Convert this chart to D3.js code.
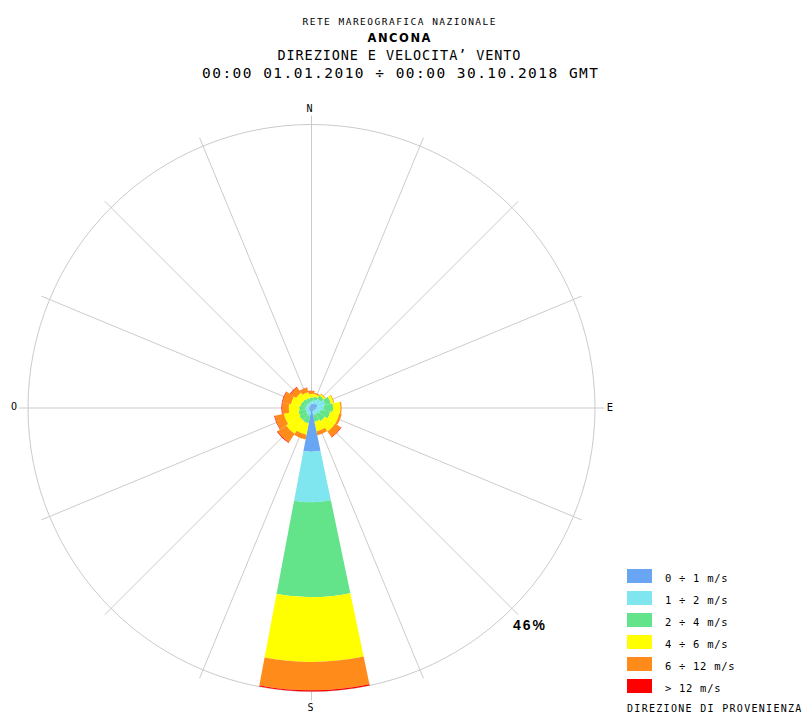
<!DOCTYPE html>
<html>
<head>
<meta charset="utf-8">
<script src="https://cdn.jsdelivr.net/npm/d3@7"></script>
<style>
  html, body { margin: 0; padding: 0; background: #fff; }
  svg { display: block; }
</style>
</head>
<body>
<svg id="chart" width="803" height="713"></svg>
<script>
// Wind rose: 16 direction sectors, stacked by speed class (percent of observations)
const directions = ["N","NNE","NE","ENE","E","ESE","SE","SSE","S","SSW","SW","WSW","W","WNW","NW","NNW"];
const speedClasses = ["0 ÷ 1 m/s","1 ÷ 2 m/s","2 ÷ 4 m/s","4 ÷ 6 m/s","6 ÷ 12 m/s","> 12 m/s"];
const classColors = ["#68a6f4","#7fe6ef","#63e38a","#ffff00","#ff8c1a","#ff0000"];

const speed0_1  = [0.6, 0.7, 0.9, 1.0, 0.8, 0.6, 0.5, 0.6,  7.1, 0.6, 0.5, 0.4, 0.4, 0.4, 0.4, 0.4];
const speed1_2  = [0.5, 0.7, 0.9, 1.3, 1.2, 0.9, 0.7, 0.6,  8.2, 0.7, 0.6, 0.6, 0.6, 0.5, 0.5, 0.5];
const speed2_4  = [0.6, 0.5, 0.6, 0.9, 1.5, 1.6, 1.4, 1.1, 15.4, 1.2, 1.3, 1.2, 1.0, 0.9, 0.8, 0.7];
const speed4_6  = [0.6, 0.4, 0.3, 0.5, 1.2, 1.5, 2.0, 1.6, 10.5, 1.9, 2.6, 2.4, 1.7, 1.6, 1.3, 1.0];
const speed6_12 = [0.45,0.2, 0.1, 0.1, 0.2, 0.4, 1.1, 0.6,  4.6, 0.8, 1.7, 1.5, 1.1, 1.4, 1.1, 0.75];
const speedOver12=[0.05,0.0, 0.0, 0.0, 0.0, 0.0, 0.1, 0.0,  0.2, 0.0, 0.1, 0.1, 0.1, 0.1, 0.1, 0.05];

const maxPercent = 46;
const titleLines = ["RETE MAREOGRAFICA NAZIONALE","ANCONA","DIREZIONE E VELOCITA’ VENTO","00:00 01.01.2010 ÷ 00:00 30.10.2018 GMT"];
const compassLabels = [{t:"N",a:0},{t:"E",a:90},{t:"S",a:180},{t:"O",a:270}];

const series = [speed0_1, speed1_2, speed2_4, speed4_6, speed6_12, speedOver12];

const svg = d3.select("#chart");
const cx = 311.5, cy = 408, R = 283.5;
const mono = "'DejaVu Sans Mono', 'Liberation Mono', monospace";

const r = d3.scaleLinear().domain([0, maxPercent]).range([0, R]);
const angle = d3.scaleLinear().domain([0, directions.length]).range([0, 2 * Math.PI]);
// sectors are drawn with a slight counter-clockwise offset from the spokes
const sectorOffset = -0.6 * Math.PI / 180;

// Title block
const title = svg.append("g").attr("text-anchor", "middle");
title.append("text").attr("x", 399).attr("y", 24.5)
  .attr("font-family", mono).attr("font-size", 9.5)
  .attr("textLength", 193).attr("lengthAdjust", "spacing")
  .text(titleLines[0]);
title.append("text").attr("x", 399).attr("y", 42)
  .attr("font-family", "'DejaVu Sans', sans-serif").attr("font-weight", "bold").attr("font-size", 11.5)
  .attr("textLength", 63).attr("lengthAdjust", "spacing")
  .text(titleLines[1]);
title.append("text").attr("x", 399).attr("y", 60)
  .attr("font-family", mono).attr("font-size", 13.5)
  .attr("textLength", 243).attr("lengthAdjust", "spacing")
  .text(titleLines[2]);
title.append("text").attr("x", 400).attr("y", 78)
  .attr("font-family", mono).attr("font-size", 14.5)
  .attr("textLength", 396).attr("lengthAdjust", "spacing")
  .text(titleLines[3]);

const g = svg.append("g").attr("transform", `translate(${cx},${cy})`);

// Spokes, extending a little past the outer ring
g.append("g").selectAll("line").data(directions).join("line")
  .attr("x1", 0).attr("y1", 0)
  .attr("x2", (d, i) => Math.sin(angle(i)) * (R + 9))
  .attr("y2", (d, i) => -Math.cos(angle(i)) * (R + 9))
  .attr("stroke", "#cbcbcb").attr("stroke-width", 1);

g.append("circle").attr("r", R).attr("fill", "none")
  .attr("stroke", "#cbcbcb").attr("stroke-width", 1);

// Stacked petals
const stacked = directions.map((d, i) => {
  let acc = 0;
  return series.map((s, k) => {
    const lo = acc; acc += s[i];
    return {dir: i, k, lo, hi: acc};
  });
});
const half = Math.PI / directions.length;
const arc = d3.arc()
  .innerRadius(d => r(d.lo))
  .outerRadius(d => r(d.hi))
  .startAngle(d => angle(d.dir) - half + sectorOffset)
  .endAngle(d => angle(d.dir) + half + sectorOffset);

g.append("g").selectAll("g").data(stacked).join("g")
  .selectAll("path").data(d => d.filter(s => s.hi > s.lo)).join("path")
  .attr("d", arc)
  .attr("fill", d => classColors[d.k]);

// Compass letters
const labelPos = {N: [309.5, 112], E: [610, 411], S: [310.5, 711], O: [14, 410]};
svg.append("g").selectAll("text").data(compassLabels).join("text")
  .attr("x", d => labelPos[d.t][0]).attr("y", d => labelPos[d.t][1])
  .attr("text-anchor", "middle")
  .attr("font-family", d => d.t === "E" ? "'DejaVu Sans', sans-serif" : mono)
  .attr("font-size", 10)
  .text(d => d.t);

// Scale label on the outer ring
svg.append("text").attr("x", 513).attr("y", 630)
  .attr("font-family", "'Liberation Sans', Arial, sans-serif").attr("font-weight", "bold")
  .attr("font-size", 14).attr("textLength", 32).attr("lengthAdjust", "spacing")
  .text(maxPercent + "%");

// Legend
const legend = svg.append("g").attr("transform", "translate(627,569)");
const rows = legend.selectAll("g").data(speedClasses).join("g")
  .attr("transform", (d, i) => `translate(0,${i * 22})`);
rows.append("rect").attr("width", 25).attr("height", 14)
  .attr("fill", (d, i) => classColors[i]);
rows.append("text").attr("x", 38).attr("y", 12.5)
  .attr("font-family", mono).attr("font-size", 10.5).attr("letter-spacing", 0.7)
  .text(d => d);
svg.append("text").attr("x", 627).attr("y", 712)
  .attr("font-family", mono).attr("font-size", 10).attr("letter-spacing", 1.3)
  .text("DIREZIONE DI PROVENIENZA");
</script>
</body>
</html>
